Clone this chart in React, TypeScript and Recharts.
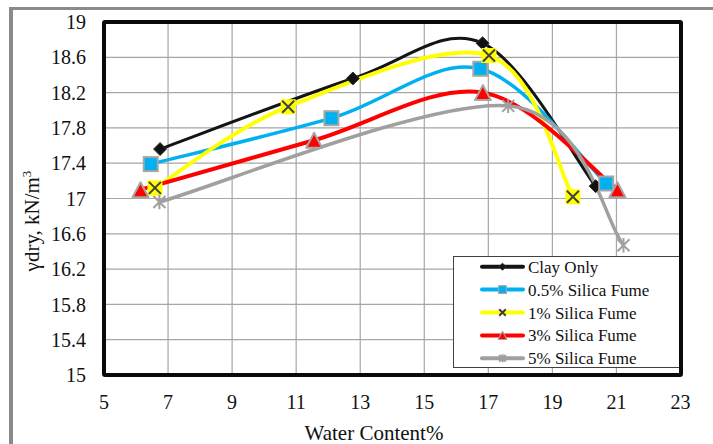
import { LineChart, Line, XAxis, YAxis, CartesianGrid, Legend, Label } from "recharts";

// water content (%) and dry unit weight (kN/m3) for each mix
const clayX = [6.75, 12.77, 16.82, 20.35];
const clayY = [17.56, 18.36, 18.76, 17.14];
const sf05X = [6.46, 12.1, 16.75, 20.68];
const sf05Y = [17.39, 17.91, 18.47, 17.17];
const sf1X = [6.59, 10.75, 17.02, 19.64];
const sf1Y = [17.12, 18.04, 18.62, 17.02];
const sf3X = [6.14, 11.56, 16.83, 21.03];
const sf3Y = [17.1, 17.66, 18.2, 17.1];
const sf5X = [6.73, 17.62, 21.22];
const sf5Y = [16.96, 18.05, 16.47];

const xTicks = [5, 7, 9, 11, 13, 15, 17, 19, 21, 23];
const yTicks = [15, 15.4, 15.8, 16.2, 16.6, 17, 17.4, 17.8, 18.2, 18.6, 19];

const FONT = "'Liberation Serif', 'Times New Roman', serif";

const rows = (xs: number[], ys: number[]) => xs.map((x, i) => ({ x, y: ys[i] }));

// Excel-style smoothed line: Catmull-Rom segments as cubic beziers
const smooth = (ctx: any) => {
  let pts: number[][] = [];
  return {
    areaStart() {},
    areaEnd() {},
    lineStart() {
      pts = [];
    },
    point(x: number, y: number) {
      pts.push([+x, +y]);
    },
    lineEnd() {
      const n = pts.length;
      if (!n) return;
      ctx.moveTo(pts[0][0], pts[0][1]);
      for (let i = 0; i < n - 1; i++) {
        const p0 = pts[Math.max(i - 1, 0)];
        const p1 = pts[i];
        const p2 = pts[i + 1];
        const p3 = pts[Math.min(i + 2, n - 1)];
        ctx.bezierCurveTo(
          p1[0] + (p2[0] - p0[0]) / 6,
          p1[1] + (p2[1] - p0[1]) / 6,
          p2[0] - (p3[0] - p1[0]) / 6,
          p2[1] - (p3[1] - p1[1]) / 6,
          p2[0],
          p2[1]
        );
      }
    },
  };
};

type Shape = "diamond" | "square" | "xbox" | "triangle" | "star";

function Marker({ shape, cx, cy, s = 1 }: { shape: Shape; cx: number; cy: number; s?: number }) {
  if (shape === "diamond") {
    const r = 6.5 * s;
    return <path d={`M${cx},${cy - r}L${cx + r},${cy}L${cx},${cy + r}L${cx - r},${cy}Z`} fill="#111" stroke="#333" strokeWidth={1} />;
  }
  if (shape === "square") {
    const h = 7 * s;
    return <rect x={cx - h} y={cy - h} width={2 * h} height={2 * h} fill="#00b0f0" stroke="#a6a6a6" strokeWidth={2 * s} />;
  }
  if (shape === "xbox") {
    const h = 7.5 * s;
    const k = 6 * s;
    return (
      <g>
        {s === 1 && <rect x={cx - h} y={cy - h} width={2 * h} height={2 * h} fill="#ffff00" />}
        <path d={`M${cx - k},${cy - k}L${cx + k},${cy + k}M${cx + k},${cy - k}L${cx - k},${cy + k}`} stroke="#404040" strokeWidth={2} />
      </g>
    );
  }
  if (shape === "triangle") {
    const w = 8 * s;
    const h = 7.5 * s;
    return <path d={`M${cx},${cy - h}L${cx + w},${cy + h}L${cx - w},${cy + h}Z`} fill="#ff0000" stroke="#a6a6a6" strokeWidth={2 * s} strokeLinejoin="round" />;
  }
  const k = 6 * s;
  return (
    <path
      d={`M${cx - k},${cy - k}L${cx + k},${cy + k}M${cx + k},${cy - k}L${cx - k},${cy + k}M${cx},${cy - k * 1.2}L${cx},${cy + k * 1.2}`}
      stroke="#a0a0a0"
      strokeWidth={2}
    />
  );
}

const series = [
  { name: "Clay Only", data: rows(clayX, clayY), color: "#141414", width: 3, shape: "diamond" as Shape },
  { name: "0.5% Silica Fume", data: rows(sf05X, sf05Y), color: "#00b0f0", width: 3.5, shape: "square" as Shape },
  { name: "1% Silica Fume", data: rows(sf1X, sf1Y), color: "#ffff00", width: 4, shape: "xbox" as Shape },
  { name: "3% Silica Fume", data: rows(sf3X, sf3Y), color: "#ff0000", width: 4, shape: "triangle" as Shape },
  { name: "5% Silica Fume", data: rows(sf5X, sf5Y), color: "#a0a0a0", width: 3.5, shape: "star" as Shape },
];

function LegendBox() {
  return (
    <div style={{ width: 227, height: 112, boxSizing: "border-box", border: "1px solid #404040", background: "#fff" }}>
      <svg width={225} height={110} style={{ display: "block" }}>
        {series.map((s, i) => {
          const cy = 9.7 + i * 22.9;
          return (
            <g key={s.name}>
              <line x1={28} x2={69} y1={cy} y2={cy} stroke={s.color} strokeWidth={4} strokeLinecap="round" />
              <Marker shape={s.shape} cx={48.5} cy={cy} s={0.55} />
              <text x={74} y={cy + 6} fontSize={17} fontFamily={FONT} fill="#111">
                {s.name}
              </text>
            </g>
          );
        })}
      </svg>
    </div>
  );
}

const fmtY = (v: number) => String(+v.toFixed(1));

export default function App() {
  return (
    <div style={{ position: "absolute", left: 0, top: 0, width: 713, height: 444, background: "#fff", fontFamily: FONT }}>
      {/* outer frame, left and top edges */}
      <div style={{ position: "absolute", left: 9, top: 7, right: 0, bottom: 0, borderLeft: "4px solid #8a8a8a", borderTop: "3.5px solid #8a8a8a" }} />
      <LineChart width={713} height={444} margin={{ top: 22, right: 32.5, bottom: 0, left: 0 }}>
        <CartesianGrid stroke="#a6a6a6" strokeWidth={1.2} />
        <XAxis
          dataKey="x"
          type="number"
          domain={[5, 23]}
          ticks={xTicks}
          interval={0}
          height={69}
          axisLine={false}
          tickLine={false}
          tickSize={0}
          tickMargin={20}
          tick={{ fill: "#111", fontSize: 20, fontFamily: FONT }}
        >
          <Label
            content={() => (
              <text x={374} y={440} textAnchor="middle" fontSize={21} fontFamily={FONT} fill="#111">
                Water Content%
              </text>
            )}
          />
        </XAxis>
        <YAxis
          type="number"
          domain={[15, 19]}
          ticks={yTicks}
          interval={0}
          width={104}
          axisLine={false}
          tickLine={false}
          tickSize={0}
          tickMargin={18}
          tickFormatter={fmtY}
          tick={{ fill: "#111", fontSize: 20, fontFamily: FONT }}
        >
          <Label
            content={() => (
              <text x={39} y={221} transform="rotate(-90 39 221)" textAnchor="middle" fontSize={21} fontFamily={FONT} fill="#111">
                γdry, kN/m<tspan dy={-8} fontSize={13}>3</tspan>
              </text>
            )}
          />
        </YAxis>
        {series.map((s) => (
          <Line
            key={s.name}
            name={s.name}
            data={s.data}
            dataKey="y"
            type={smooth as any}
            stroke={s.color}
            strokeWidth={s.width}
            isAnimationActive={false}
            dot={(p: any) => <Marker key={`${s.name}-${p.index}`} shape={s.shape} cx={p.cx} cy={p.cy} />}
            activeDot={false}
          />
        ))}
        <Legend
          layout="vertical"
          align="center"
          verticalAlign="middle"
          wrapperStyle={{ left: 453, top: 256, width: 227, height: 112 }}
          content={() => <LegendBox />}
        />
      </LineChart>
      {/* plot area border */}
      <div
        style={{
          position: "absolute",
          left: 102,
          top: 20,
          width: 580.5,
          height: 357,
          boxSizing: "border-box",
          border: "4px solid #0a0a0a",
          borderRadius: 3,
          pointerEvents: "none",
        }}
      />
    </div>
  );
}
